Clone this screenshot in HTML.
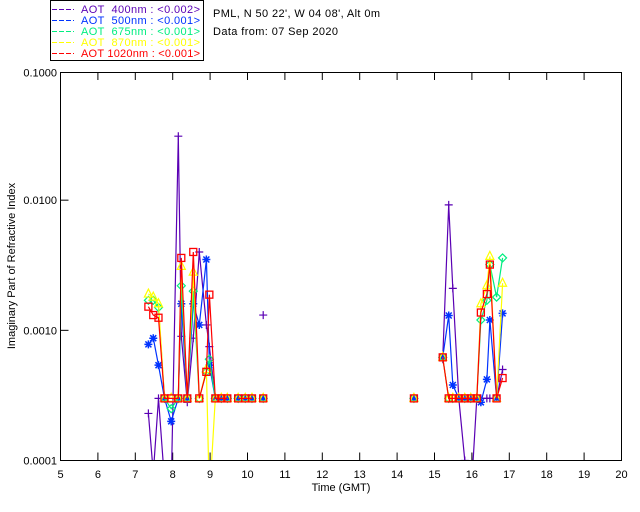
<!DOCTYPE html>
<html><head><meta charset="utf-8"><style>
body{margin:0;background:#fff;}
svg{display:block;font-family:"Liberation Sans",sans-serif;}
</style></head><body>
<svg id="chart" width="640" height="512" viewBox="0 0 640 512" xmlns="http://www.w3.org/2000/svg">
<rect width="640" height="512" fill="#fff"/>
<g>
<rect x="50.5" y="0.5" width="153" height="60" fill="#fff" stroke="#000"/>
<g stroke-width="1" stroke-dasharray="5,2">
<line x1="52" x2="74" y1="9.5" y2="9.5" stroke="#5a00b4"/>
<line x1="52" x2="74" y1="20.5" y2="20.5" stroke="#0033ff"/>
<line x1="52" x2="74" y1="31.5" y2="31.5" stroke="#00ee80"/>
<line x1="52" x2="74" y1="42.5" y2="42.5" stroke="#ffff00"/>
<line x1="52" x2="74" y1="53.5" y2="53.5" stroke="#ff0000"/>
</g>
<g font-size="11">
<text x="81" y="13" fill="#5a00b4" textLength="119">AOT &#160;400nm : &lt;0.002&gt;</text>
<text x="81" y="24" fill="#0033ff" textLength="119">AOT &#160;500nm : &lt;0.001&gt;</text>
<text x="81" y="35" fill="#00ee80" textLength="119">AOT &#160;675nm : &lt;0.001&gt;</text>
<text x="81" y="46" fill="#ffff00" textLength="119">AOT &#160;870nm : &lt;0.001&gt;</text>
<text x="81" y="57" fill="#ff0000" textLength="119">AOT 1020nm : &lt;0.001&gt;</text>
</g></g>
<text x="213" y="17" font-size="11" textLength="167">PML, N 50 22', W 04 08', Alt 0m</text>
<text x="213" y="35" font-size="11" textLength="125">Data from: 07 Sep 2020</text>
<text transform="translate(15,266) rotate(-90)" text-anchor="middle" font-size="11">Imaginary Part of Refractive Index</text>
<text x="341" y="491" text-anchor="middle" font-size="11">Time (GMT)</text>
<defs><clipPath id="pc"><rect x="60" y="72" width="562" height="389"/></clipPath></defs>
<g id="axes"></g>
<g id="series" clip-path="url(#pc)"></g>
<rect x="60.5" y="72.5" width="561" height="388" fill="none" stroke="#000"/>
</svg>
<script>
const times = [7.35,7.48,7.62,7.78,7.96,8.15,8.23,8.39,8.55,8.71,8.9,8.98,9.14,9.3,9.46,9.75,9.94,10.12,10.42,
  14.45,15.22,15.38,15.49,15.65,15.81,15.97,16.13,16.24,16.4,16.48,16.66,16.82];
const v400 = [0.00023,0.00008,0.0003,0.00007,0.00006,0.031,0.0009,0.00028,0.00087,0.004,0.0011,0.00075,0.0003,0.0003,0.0003,0.0003,0.0003,0.0003,0.00131,
  0.0003,0.0006,0.0092,0.0021,0.0003,0.0001,0.00005,0.0003,0.0003,0.0003,0.0003,0.0003,0.0005];
const v500 = [0.00078,0.00087,0.00054,0.0003,0.0002,0.0003,0.0016,0.0003,0.0016,0.0011,0.0035,0.00054,0.0003,0.0003,0.0003,0.0003,0.0003,0.0003,0.0003,
  0.0003,0.00062,0.0013,0.00038,0.0003,0.0003,0.0003,0.0003,0.00028,0.00042,0.0012,0.0003,0.00135];
const v675 = [0.0017,0.0017,0.0015,0.0003,0.00025,0.0003,0.0022,0.0003,0.002,0.0003,0.00048,0.0006,0.0003,0.0003,0.0003,0.0003,0.0003,0.0003,0.0003,
  0.0003,0.00062,0.0003,0.0003,0.0003,0.0003,0.0003,0.0003,0.0012,0.0017,0.0032,0.0018,0.0036];
const v870 = [0.0019,0.0018,0.0016,0.0003,0.0003,0.0003,0.0031,0.0003,0.0028,0.0003,0.0005,0.00005,0.0003,0.0003,0.0003,0.0003,0.0003,0.0003,0.0003,
  0.0003,0.00062,0.0003,0.0003,0.0003,0.0003,0.0003,0.0003,0.0016,0.0022,0.0037,0.0003,0.0023];
const v1020 = [0.00152,0.00131,0.00125,0.0003,0.0003,0.0003,0.0036,0.0003,0.004,0.0003,0.00048,0.00188,0.0003,0.0003,0.0003,0.0003,0.0003,0.0003,0.0003,
  0.0003,0.00062,0.0003,0.0003,0.0003,0.0003,0.0003,0.0003,0.00137,0.0019,0.0032,0.0003,0.00043];
const xTicks = [5,6,7,8,9,10,11,12,13,14,15,16,17,18,19,20];
const yTicks = [0.1,0.01,0.001,0.0001];
const yTickLabels = ["0.1000","0.0100","0.0010","0.0001"];

const NS = "http://www.w3.org/2000/svg";
const X0=60.5, X1=621.5, Y0=70, Y1=460.5;
function xs(t){return X0+(t-5)/15*(X1-X0);}
function ys(v){return Y0+(-1-Math.log10(v))/3*(Y1-Y0);}
function mk(tag, attrs, parent){const e=document.createElementNS(NS,tag);for(const k in attrs)e.setAttribute(k,attrs[k]);parent.appendChild(e);return e;}

const axes=document.getElementById('axes');
xTicks.forEach((t,i)=>{
  const x=xs(t);
  const tk=mk('line',{x1:x,x2:x,y1:Y1,y2:Y1-8,stroke:'#000'},axes);
  
  
  const tt=mk('line',{x1:x,x2:x,y1:72.5,y2:80,stroke:'#000'},axes);
  
  
  const lb=mk('text',{x:x,y:478,'text-anchor':'middle','font-size':11},axes);
  lb.textContent=t;
  
  
});
yTicks.forEach((v,i)=>{
  const y=Math.max(ys(v),72.5);
  const tk=mk('line',{x1:X0,x2:X0+8,y1:y,y2:y,stroke:'#000'},axes);
  
  
  const lb=mk('text',{x:57,y:y+4,'text-anchor':'end','font-size':11},axes);
  lb.textContent=yTickLabels[i];
  
  
});

const seriesDefs=[
  {name:'aot-400nm',vals:v400,color:'#5a00b4',marker:'plus'},
  {name:'aot-500nm',vals:v500,color:'#0033ff',marker:'star'},
  {name:'aot-675nm',vals:v675,color:'#00ee80',marker:'diamond'},
  {name:'aot-870nm',vals:v870,color:'#ffff00',marker:'triangle'},
  {name:'aot-1020nm',vals:v1020,color:'#ff0000',marker:'square'}
];
const sg=document.getElementById('series');
seriesDefs.forEach(s=>{
  const g=mk('g',{},sg);
  
  
  let d='', prev=null;
  times.forEach((t,i)=>{
    const v=s.vals[i]; if(v==null){prev=null;return;}
    const x=xs(t), y=ys(v);
    if(prev!==null && t-prev<=0.25) d+=' L'+x.toFixed(1)+' '+y.toFixed(1);
    else d+=' M'+x.toFixed(1)+' '+y.toFixed(1);
    prev=t;
  });
  const p=mk('path',{d:d,fill:'none',stroke:s.color,'stroke-width':1.2},g);
  
  
  times.forEach((t,i)=>{
    const v=s.vals[i]; if(v==null)return;
    const x=xs(t), y=ys(v);
    let m;
    if(s.marker==='plus') m=mk('path',{d:`M${x-4} ${y}H${x+4}M${x} ${y-4}V${y+4}`,stroke:s.color,'stroke-width':1.2,fill:'none'},g);
    else if(s.marker==='star') m=mk('path',{d:`M${x-4} ${y}H${x+4}M${x} ${y-4}V${y+4}M${x-3} ${y-3}L${x+3} ${y+3}M${x-3} ${y+3}L${x+3} ${y-3}`,stroke:s.color,'stroke-width':1.5,fill:'none'},g);
    else if(s.marker==='diamond') m=mk('path',{d:`M${x} ${y-4}L${x+4} ${y}L${x} ${y+4}L${x-4} ${y}Z`,stroke:s.color,'stroke-width':1.2,fill:'none'},g);
    else if(s.marker==='triangle') m=mk('path',{d:`M${x} ${y-5}L${x+4} ${y+3}L${x-4} ${y+3}Z`,stroke:s.color,'stroke-width':1.2,fill:'none'},g);
    else m=mk('rect',{x:x-3.5,y:y-3.5,width:7,height:7,stroke:s.color,'stroke-width':1.3,fill:'none'},g);
    
    
  });
});
</script>
</body></html>
